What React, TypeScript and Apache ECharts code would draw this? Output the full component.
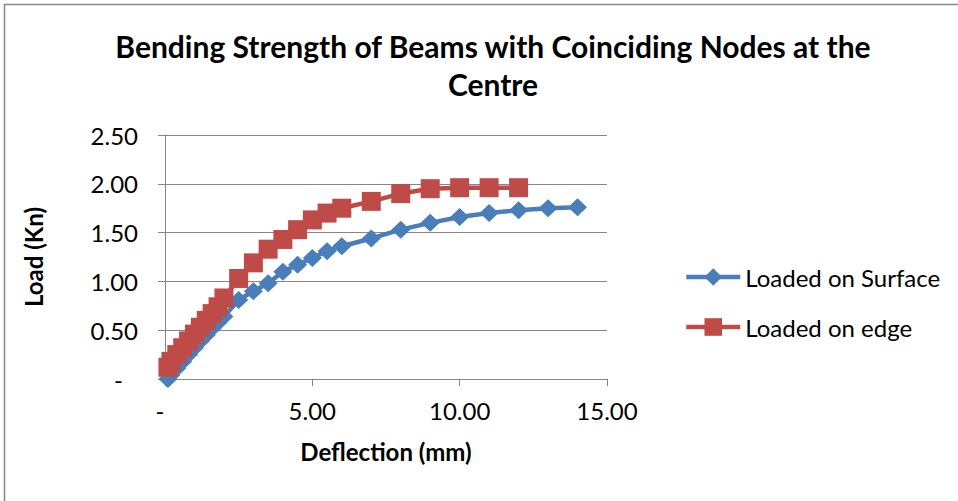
import React, { useEffect, useRef } from "react";
import * as echarts from "echarts";

const surfaceX = [0.1, 0.2, 0.4, 0.6, 0.8, 1.0, 1.2, 1.4, 1.6, 1.8, 2.0, 2.5, 3.0, 3.5, 4.0, 4.5, 5.0, 5.5, 6.0, 7.0, 8.0, 9.0, 10.0, 11.0, 12.0, 13.0, 14.0];
const surfaceY = [0.0, 0.04, 0.11, 0.18, 0.25, 0.32, 0.39, 0.45, 0.52, 0.58, 0.64, 0.81, 0.9, 0.98, 1.1, 1.17, 1.24, 1.31, 1.36, 1.44, 1.53, 1.6, 1.66, 1.7, 1.73, 1.75, 1.76];

const edgeX = [0.1, 0.2, 0.4, 0.6, 0.8, 1.0, 1.2, 1.4, 1.6, 1.8, 2.0, 2.5, 3.0, 3.5, 4.0, 4.5, 5.0, 5.5, 6.0, 7.0, 8.0, 9.0, 10.0, 11.0, 12.0];
const edgeY = [0.12, 0.18, 0.25, 0.32, 0.39, 0.46, 0.53, 0.6, 0.67, 0.74, 0.83, 1.03, 1.19, 1.33, 1.43, 1.53, 1.63, 1.7, 1.75, 1.82, 1.9, 1.95, 1.96, 1.96, 1.96];

const seriesNames = ["Loaded on Surface", "Loaded on edge"];
const titleText = "Bending Strength of Beams with Coinciding Nodes at the\nCentre";
const xAxisName = "Deflection (mm)";
const yAxisName = "Load (Kn)";

const FONT = "Lato, 'Open Sans', sans-serif";
const GRID = "#868686";
const FS = 24;

export default function App() {
  const ref = useRef<HTMLDivElement>(null);
  useEffect(() => {
    if (!ref.current) return;
    const chart = echarts.init(ref.current, undefined, { renderer: "svg" });
    const pair = (xs: number[], ys: number[]) => xs.map((x, i) => [x, ys[i]]);
    chart.setOption({
      animation: false,
      backgroundColor: "#ffffff",
      title: {
        text: titleText,
        left: 488,
        top: 22,
        textAlign: "center",
        textStyle: { fontFamily: FONT, fontSize: 30, fontWeight: "bold", color: "#000", lineHeight: 38 },
      },
      graphic: [
        {
          type: "rect",
          shape: { x: 4.5, y: 4.5, width: 1200, height: 1200 },
          style: { fill: "none", stroke: "#868686", lineWidth: 1.5 },
          silent: true,
        },
      ],
      legend: {
        orient: "vertical",
        left: 684,
        top: 265,
        padding: 0,
        itemWidth: 54,
        itemHeight: 22,
        itemGap: 26,
        lineStyle: { width: 4.5 },
        textStyle: { fontFamily: FONT, fontSize: FS, color: "#000", lineHeight: 22 },
        data: seriesNames,
      },
      grid: { left: 165, right: 351, top: 135, bottom: 122, containLabel: false },
      xAxis: {
        type: "value",
        min: 0,
        max: 15,
        interval: 5,
        name: xAxisName,
        nameLocation: "middle",
        nameGap: 60,
        nameTextStyle: { fontFamily: FONT, fontSize: FS, fontWeight: "bold", color: "#000" },
        axisLine: { show: true, lineStyle: { color: GRID, width: 1 } },
        axisTick: { show: true, inside: false, length: 7, lineStyle: { color: GRID } },
        splitLine: { show: false },
        axisLabel: {
          margin: 19,
          fontFamily: FONT,
          fontSize: FS,
          color: "#000",
          formatter: (v: number) => (v === 0 ? "{d|-}" : v.toFixed(2)),
          rich: { d: { fontFamily: FONT, fontSize: FS, color: "#000", padding: [0, 10, 0, 0] } },
        },
      },
      yAxis: {
        type: "value",
        min: 0,
        max: 2.5,
        interval: 0.5,
        name: yAxisName,
        nameLocation: "middle",
        nameGap: 120,
        nameRotate: 90,
        nameTextStyle: { fontFamily: FONT, fontSize: FS, fontWeight: "bold", color: "#000" },
        axisLine: { show: true, lineStyle: { color: GRID, width: 1 } },
        axisTick: { show: true, inside: false, length: 7, lineStyle: { color: GRID } },
        splitLine: { show: true, lineStyle: { color: GRID, width: 1 } },
        axisLabel: {
          margin: 27,
          fontFamily: FONT,
          fontSize: FS,
          color: "#000",
          formatter: (v: number) => (v === 0 ? "{d|-}" : v.toFixed(2)),
          rich: { d: { fontFamily: FONT, fontSize: FS, color: "#000", padding: [0, 15, 0, 0] } },
        },
      },
      series: [
        {
          name: seriesNames[0],
          type: "line",
          data: pair(surfaceX, surfaceY),
          symbol: "diamond",
          symbolSize: [19, 18],
          color: "#4A7EBB",
          lineStyle: { width: 4.5, color: "#4A7EBB" },
          itemStyle: { color: "#4A7EBB" },
        },
        {
          name: seriesNames[1],
          type: "line",
          data: pair(edgeX, edgeY),
          symbol: "rect",
          symbolSize: 19,
          color: "#BE4B48",
          lineStyle: { width: 4.5, color: "#BE4B48" },
          itemStyle: { color: "#BE4B48" },
        },
      ],
    });
    return () => chart.dispose();
  }, []);
  return (
    <div
      ref={ref}
      style={{ position: "fixed", left: 0, top: 0, width: 958, height: 501, background: "#fff" }}
    />
  );
}
